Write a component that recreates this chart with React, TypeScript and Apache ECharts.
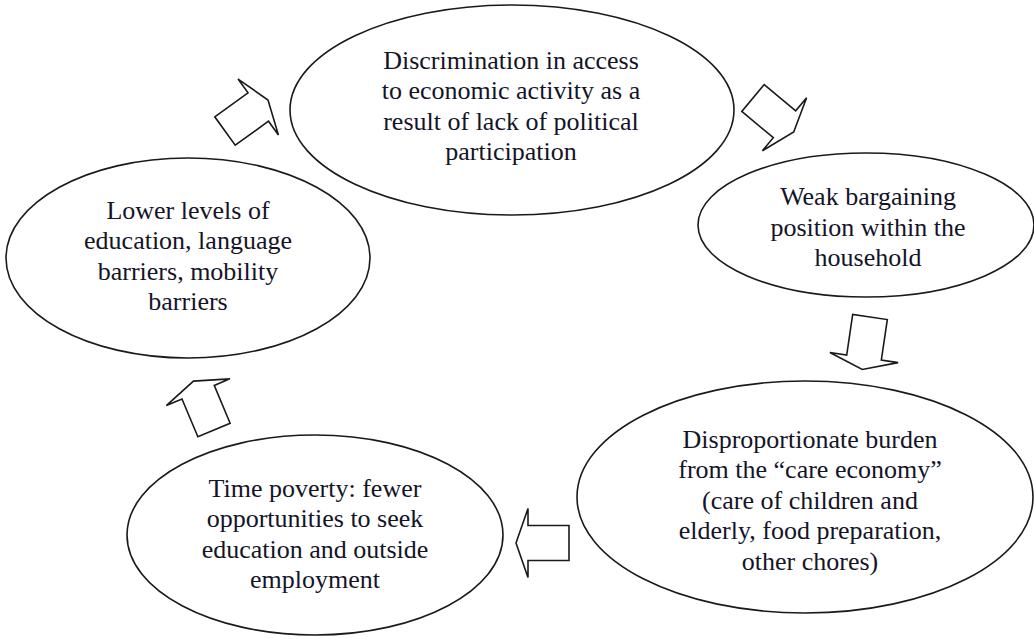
import React, { useEffect, useRef } from "react";
import * as echarts from "echarts";

// Diagram content
const nodeLabels: string[] = [
  "Discrimination in access\nto economic activity as a\nresult of lack of political\nparticipation",
  "Weak bargaining\nposition within the\nhousehold",
  "Disproportionate burden\nfrom the \u201ccare economy\u201d\n(care of children and\nelderly, food preparation,\nother chores)",
  "Time poverty: fewer\nopportunities to seek\neducation and outside\nemployment",
  "Lower levels of\neducation, language\nbarriers, mobility\nbarriers",
];

// Layout (ellipse centre, radii, text centre)
const ellipseLayout = [
  { cx: 512, cy: 110, rx: 222, ry: 105, tx: 511, ty: 106 },
  { cx: 866, cy: 225, rx: 168, ry: 72, tx: 868, ty: 227 },
  { cx: 805, cy: 497, rx: 228, ry: 116, tx: 810, ty: 500 },
  { cx: 315, cy: 535, rx: 188, ry: 100, tx: 315, ty: 534 },
  { cx: 188, cy: 258, rx: 182, ry: 100, tx: 188, ty: 256 },
];

// Block arrows: base midpoint and direction (degrees, screen coords)
const arrowLayout = [
  { bx: 225, by: 131, angle: -35.8 },
  { bx: 753, by: 98, angle: 39.8 },
  { bx: 870, by: 317, angle: 98.4 },
  { bx: 569, by: 543, angle: 180 },
  { bx: 214, by: 430, angle: -112.8 },
];

const ARROW_LEN = 53;
const HEAD_LEN = 12;
const SHAFT_HALF = 17.5;
const HEAD_HALF = 34.5;

function arrowPoints(bx: number, by: number, angleDeg: number): number[][] {
  const t = (angleDeg * Math.PI) / 180;
  const c = Math.cos(t);
  const s = Math.sin(t);
  const local = [
    [0, -SHAFT_HALF],
    [ARROW_LEN - HEAD_LEN, -SHAFT_HALF],
    [ARROW_LEN - HEAD_LEN, -HEAD_HALF],
    [ARROW_LEN, 0],
    [ARROW_LEN - HEAD_LEN, HEAD_HALF],
    [ARROW_LEN - HEAD_LEN, SHAFT_HALF],
    [0, SHAFT_HALF],
  ];
  return local.map(([u, v]) => [bx + u * c - v * s, by + u * s + v * c]);
}

export default function App() {
  const ref = useRef<HTMLDivElement>(null);

  useEffect(() => {
    if (!ref.current) return;
    const chart = echarts.init(ref.current, undefined, { renderer: "svg" });

    const elements: any[] = [];
    ellipseLayout.forEach((e, i) => {
      elements.push({
        type: "ellipse",
        shape: { cx: e.cx, cy: e.cy, rx: e.rx, ry: e.ry },
        style: { fill: "#ffffff", stroke: "#1a1a1a", lineWidth: 1.6 },
      });
      elements.push({
        type: "text",
        x: e.tx,
        y: e.ty,
        style: {
          text: nodeLabels[i],
          fill: "#141428",
          font: '26px "Liberation Serif", "Times New Roman", serif',
          textAlign: "center",
          textVerticalAlign: "middle",
          lineHeight: 30.5,
        },
      });
    });
    arrowLayout.forEach((a) => {
      elements.push({
        type: "polygon",
        shape: { points: arrowPoints(a.bx, a.by, a.angle) },
        style: { fill: "#ffffff", stroke: "#1a1a1a", lineWidth: 1.6, lineJoin: "miter" },
      });
    });

    chart.setOption({
      animation: false,
      backgroundColor: "#ffffff",
      graphic: { elements },
    });

    return () => chart.dispose();
  }, []);

  return (
    <div
      ref={ref}
      style={{ position: "fixed", left: 0, top: 0, width: 1034, height: 639 }}
    />
  );
}
